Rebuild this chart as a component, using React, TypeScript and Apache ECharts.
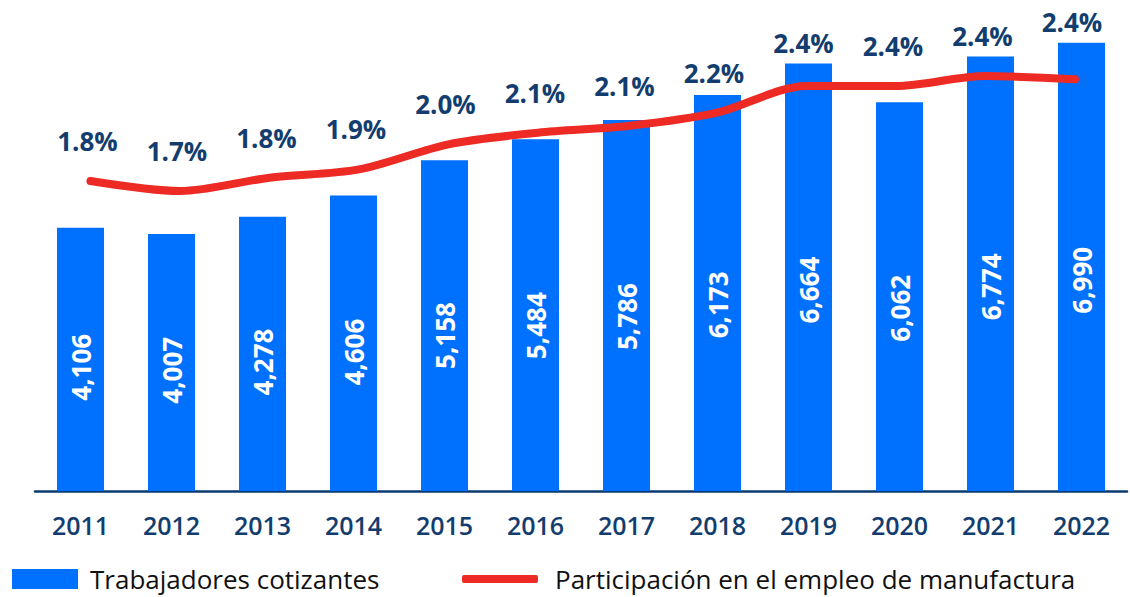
import React, { useEffect, useRef } from "react";
import * as echarts from "echarts";

const years = ["2011", "2012", "2013", "2014", "2015", "2016", "2017", "2018", "2019", "2020", "2021", "2022"];
const workers = [4106, 4007, 4278, 4606, 5158, 5484, 5786, 6173, 6664, 6062, 6774, 6990];
const share = [1.79, 1.73, 1.81, 1.86, 2.01, 2.08, 2.12, 2.2, 2.36, 2.36, 2.42, 2.4];

const barName = "Trabajadores cotizantes";
const lineName = "Participación en el empleo de manufactura";

const FONT = "Open Sans";
const NAVY = "#123d6e";
const BLUE = "#0070ff";
const RED = "#ee2a24";

export default function App() {
  const ref = useRef<HTMLDivElement>(null);
  useEffect(() => {
    const chart = echarts.init(ref.current!, null, { renderer: "svg" });
    const legendText = { fontFamily: FONT, fontSize: 26, color: "#111", fontWeight: 500, lineHeight: 26 };
    const option: any = {
      animation: false,
      grid: [
        { left: 35, width: 1092, top: 10, height: 481 },
        { left: 45.75, width: 1074, top: 10, height: 481 },
      ],
      xAxis: [
        {
          type: "category",
          data: years,
          gridIndex: 0,
          axisLine: { lineStyle: { color: "#0b3a73", width: 2.5 } },
          axisTick: { show: false },
          axisLabel: {
            color: NAVY,
            fontFamily: FONT,
            fontSize: 25,
            fontWeight: 600,
            margin: 21,
          },
        },
        { type: "category", data: years, gridIndex: 1, show: false },
      ],
      yAxis: [
        { type: "value", gridIndex: 0, min: 0, max: 7500, show: false, splitLine: { show: false } },
        { type: "value", gridIndex: 1, min: -0.07, max: 2.816, show: false, splitLine: { show: false } },
      ],
      legend: [
        {
          data: [barName],
          left: 12,
          top: 566,
          padding: 0,
          icon: "rect",
          itemWidth: 66,
          itemHeight: 20,
          textStyle: { ...legendText, padding: [0, 0, 0, 7] },
        },
        {
          data: [{ name: lineName, icon: "roundRect" }],
          left: 462,
          top: 566,
          padding: 0,
          itemWidth: 76,
          itemHeight: 8,
          textStyle: { ...legendText, padding: [0, 0, 0, 12] },
        },
      ],
      series: [
        {
          name: barName,
          type: "bar",
          xAxisIndex: 0,
          yAxisIndex: 0,
          data: workers,
          barWidth: 47,
          itemStyle: { color: BLUE },
          label: {
            show: true,
            position: ["50%", "53%"],
            rotate: 90,
            align: "center",
            verticalAlign: "middle",
            color: "#fff",
            fontFamily: FONT,
            fontSize: 26,
            fontWeight: "bold",
            formatter: (p: any) => Number(p.value).toLocaleString("en-US"),
          },
        },
        {
          name: lineName,
          type: "line",
          xAxisIndex: 1,
          yAxisIndex: 1,
          data: share,
          smooth: 0.3,
          symbol: "circle",
          symbolSize: 1,
          lineStyle: { color: RED, width: 8, cap: "round" },
          itemStyle: { color: RED },
          z: 3,
          label: {
            show: true,
            position: "inside",
            align: "center",
            verticalAlign: "middle",
            color: NAVY,
            fontFamily: FONT,
            fontSize: 26,
            fontWeight: "bold",
            formatter: (p: any) => Number(p.value).toFixed(1) + "%",
          },
        },
      ],
    };
    chart.setOption(option);

    const lineData = share.map((v, i) => {
      const pt = chart.convertToPixel({ seriesIndex: 1 }, [i, v]) as number[];
      const bt = chart.convertToPixel({ seriesIndex: 0 }, [i, workers[i]]) as number[];
      const cy = Math.min(pt[1] - 40, bt[1] - 21);
      return { value: v, label: { offset: [-3, cy - pt[1]] } };
    });
    chart.setOption({ series: [{}, { data: lineData }] });

    return () => chart.dispose();
  }, []);
  return <div ref={ref} style={{ position: "absolute", left: 0, top: 0, width: 1130, height: 597 }} />;
}
